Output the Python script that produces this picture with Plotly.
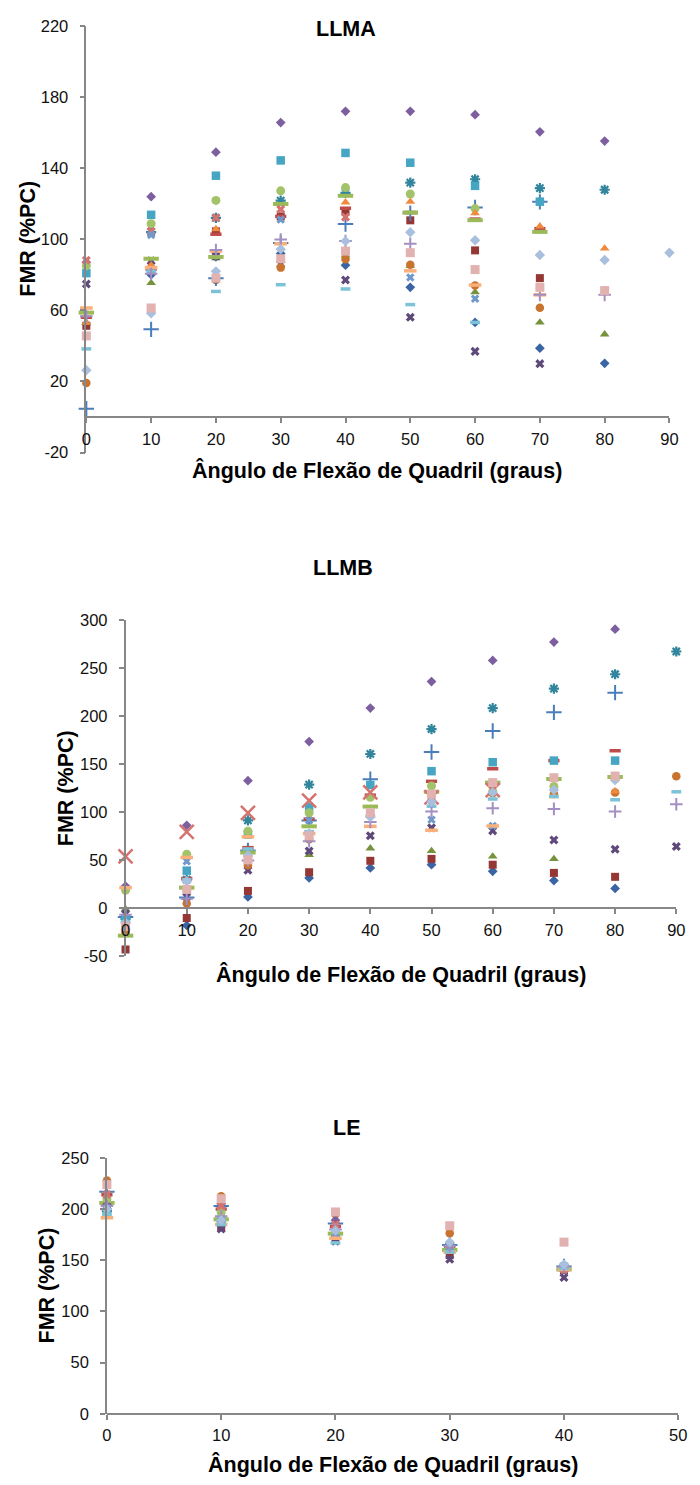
import plotly.graph_objects as go

W, H = 700, 1485

# ---------------------------------------------------------------------------
# Data: FMR (%PC) per subject series, by hip flexion angle (graus)
# None = no measurement at that angle
# ---------------------------------------------------------------------------
ANGLES_LLMA = [0, 10, 20, 30, 40, 50, 60, 70, 80, 90]
LLMA_01 = [52, 80, 90, 92, 85.4, 72.9, 53.2, 38.7, 30.2, None]
LLMA_02 = [51.3, 82.8, 104.4, 112.8, 115.6, 110.6, 93.7, 78.1, None, None]
LLMA_03 = [53, 75.4, 89.3, 88, 90.9, 85, 70.2, 53.2, 46.5, None]
LLMA_04 = [74.8, 87.8, 90.5, 86, 77, 56.1, 36.9, 30, None, None]
LLMA_05 = [None, 104, 112, 121.7, 126, 131.8, 133.7, 128.7, 127.8, None]
LLMA_06 = [19.1, 60, 77, 84, 88.7, 85.6, 73.9, 61.5, None, None]
LLMA_07 = [4.6, 49.3, 78, 97.8, 108.5, 114.6, 117.8, 121, None, None]
LLMA_08 = [56.1, 83, 102.8, 112.8, 117.4, 115, 111.3, 105.9, None, None]
LLMA_09 = [58.7, 89, 90, 119.8, 124.4, 115, 110.7, 104.1, None, None]
LLMA_10 = [87, 123.9, 148.9, 165.6, 171.9, 171.9, 170, 160.4, 155.2, None]
LLMA_11 = [80.9, 113.7, 135.7, 144.3, 148.5, 143, 130, 121.1, None, None]
LLMA_12 = [85, 108.7, 121.8, 127.2, 129, 125.4, 117.2, None, None, None]
LLMA_13 = [53.1, 85.4, 105.7, None, 120.7, 121.1, 114.6, 107.2, 94.8, None]
LLMA_14 = [88.1, 104.4, 112, 116.8, 112.4, None, None, None, None, None]
LLMA_15 = [None, 102.4, None, 111, None, 78.5, 66.5, None, None, None]
LLMA_16 = [61.3, 84, 93.3, 97.4, None, 82.2, 74.2, 68.7, None, None]
LLMA_17 = [38.3, 82, 70.6, 74.4, 72, 63.2, 53.2, None, None, None]
LLMA_18 = [56.7, 80.5, 93.9, 99.8, 99, 97.4, None, 68.7, 68.7, None]
LLMA_19 = [26.3, 58.3, 81.9, 94.4, 98.9, 103.9, 99.4, 91.1, 88.3, 92.4]
LLMA_20 = [45.6, 61.3, 78.1, 89, 93.3, 92.4, 82.9, 72.9, 71.1, None]

ANGLES_LLMB = [0, 10, 20, 30, 40, 50, 60, 70, 80, 90]
LLMB_01 = [-22, -17.8, 12, 31.8, 42.1, 45.5, 38.7, 29, 20.8, None]
LLMB_02 = [-42.8, -10, 18.2, 37.7, 49.6, 51.6, 45.5, 37, 32.9, None]
LLMB_03 = [-0.7, 21, 56, 55.7, 62.6, 59.9, 54.1, 51.6, None, None]
LLMB_04 = [-5.8, 12, 39.7, 59.9, 75.7, 83.9, 80.8, 71.2, 61.6, 64.4]
LLMB_05 = [-11, 30, 91.7, 129, 160.9, 186.9, 208.7, 229, 244, 267.7]
LLMB_06 = [-25, 5.1, 44.9, 72, 97, 112, 120, 119.1, 120.8, 137.6]
LLMB_07 = [-9, 11.3, 60.3, 91.7, 134.5, 162.9, 184.8, 204.3, 224.8, None]
LLMB_08 = [None, 31.1, 63.3, 93, 118, 132.4, 145.5, 154, 164.3, None]
LLMB_09 = [-28.4, 21.6, 58.2, 85.5, 106.1, 121.5, 131.1, 134.8, 136.9, None]
LLMB_10 = [23.3, 86.6, 133.1, 173.8, 208.7, 236.4, 258.4, 277.5, 290.9, None]
LLMB_11 = [-11, 39.3, 77, 105.4, 128.6, 143, 152.3, 154, 154, None]
LLMB_12 = [18.8, 56.5, 80.4, 99.6, 115.7, 127.6, 122, 127, 135, None]
LLMB_13 = [None, None, None, None, None, None, None, 117, 122, None]
LLMB_14 = [54.1, 79.8, 99.6, 112.2, 120.8, 115.7, 123.2, None, None, None]
LLMB_15 = [None, 49, None, 91.7, None, 92.4, 86, None, None, None]
LLMB_16 = [21.6, 53.1, 74.6, 78, 85.5, 81.4, 85.9, None, None, None]
LLMB_17 = [-14.4, 30, 62, 80, 96, 106.5, 114, 116.7, 113.2, 121.5]
LLMB_18 = [-6.5, 10, 50, 70, 90, 100.9, 104.4, 103.7, 100.9, 108.5]
LLMB_19 = [-15, 28.4, 55.1, 78, 95.2, 111.2, 120.8, 123.5, 133.8, None]
LLMB_20 = [-18.8, 19.8, 50.6, 75.7, 99.6, 119.1, 131.1, 136.2, 137.9, None]

ANGLES_LE = [0, 10, 20, 30, 40]
LE_01 = [200, 188, 180, 165, 143]
LE_02 = [205, 182, 170, 155, 140.3]
LE_03 = [207, 186, 175, 160, 142]
LE_04 = [203, 180.5, 168.6, 150.9, 133.2]
LE_05 = [198, 190, 176, 162, 144]
LE_06 = [228, 212.6, 195, 176.4, 141]
LE_07 = [217, 203, 186, 165, 144]
LE_08 = [214, 200, 183, 163, 141]
LE_09 = [206, 190, 176, 160, 141]
LE_10 = [204.6, 205.3, 189.2, 166, 143]
LE_11 = [196, 187.5, 174, 161.2, 142.9]
LE_12 = [210.1, 196.6, 177.3, 163, 143]
LE_13 = [194, 186, 173, 159, 141]
LE_14 = [214.3, 203, 184.7, 161, 141]
LE_15 = [201, 188, 176, 163, 144]
LE_16 = [191.5, 185, 171.5, 158, 141]
LE_17 = [195, 185, 167, 158, 142]
LE_18 = [203, 193, 180, 164, 144]
LE_19 = [199.8, 189.2, 178.9, 167.7, 145.8]
LE_20 = [223.9, 210.1, 197.2, 183.7, 167.7]

LLMA_SERIES = [LLMA_01, LLMA_02, LLMA_03, LLMA_04, LLMA_05, LLMA_06, LLMA_07,
               LLMA_08, LLMA_09, LLMA_10, LLMA_11, LLMA_12, LLMA_13, LLMA_14,
               LLMA_15, LLMA_16, LLMA_17, LLMA_18, LLMA_19, LLMA_20]
LLMB_SERIES = [LLMB_01, LLMB_02, LLMB_03, LLMB_04, LLMB_05, LLMB_06, LLMB_07,
               LLMB_08, LLMB_09, LLMB_10, LLMB_11, LLMB_12, LLMB_13, LLMB_14,
               LLMB_15, LLMB_16, LLMB_17, LLMB_18, LLMB_19, LLMB_20]
LE_SERIES = [LE_01, LE_02, LE_03, LE_04, LE_05, LE_06, LE_07, LE_08, LE_09,
             LE_10, LE_11, LE_12, LE_13, LE_14, LE_15, LE_16, LE_17, LE_18,
             LE_19, LE_20]

# ---------------------------------------------------------------------------
# Marker cycle (spreadsheet-style automatic markers)
# ---------------------------------------------------------------------------
MARKERS = [
    dict(symbol="diamond", color="#3B64A3", size=7.5),
    dict(symbol="square", color="#953735", size=8),
    dict(symbol="triangle-up", color="#76923C", size=8.5),
    dict(symbol="x", color="#5F497A", size=8),
    dict(symbol="asterisk-open", color="#31859C", size=8.5, lw=2.2),
    dict(symbol="circle", color="#C8732E", size=8.5),
    dict(symbol="cross-thin-open", color="#4A7EBB", size=11, lw=2),
    dict(symbol="line-ew-open", color="#BE4B48", size=8, lw=3.5),
    dict(symbol="line-ew-open", color="#9BBB59", size=11, lw=4),
    dict(symbol="diamond", color="#7D5FA0", size=7.5),
    dict(symbol="square", color="#45A5C2", size=8.5),
    dict(symbol="circle", color="#A3C36A", size=9),
    dict(symbol="triangle-up", color="#F08A3C", size=8.5),
    dict(symbol="x", color="#D47370", size=8),
    dict(symbol="x", color="#7098CB", size=7.5),
    dict(symbol="line-ew-open", color="#F9B07A", size=9, lw=3.5),
    dict(symbol="line-ew-open", color="#7CC3D8", size=7, lw=3.5),
    dict(symbol="cross-thin-open", color="#A48FC2", size=9, lw=2),
    dict(symbol="diamond", color="#A8BFDE", size=8),
    dict(symbol="square", color="#E2B2B1", size=9),
]
# LLMB draws series 14 with a large thin cross
LLMB_OVERRIDE = {13: dict(symbol="x-thin-open", color="#D47370", size=14, lw=2.5)}

FONT = "Liberation Sans, Arial, Helvetica, sans-serif"
AXIS_GREY = "#878787"
X_TITLE = "Ângulo de Flexão de Quadril (graus)"
Y_TITLE = "FMR (%PC)"

# panel boxes in pixels: left, right, top, bottom
PANELS = [
    dict(name="LLMA", x=ANGLES_LLMA, series=LLMA_SERIES, override={},
         box=(83, 678, 17, 449), xr=(0, 90), yr=(-20, 220), ydt=40,
         title_xy=(348, 20), xt_xy=(380, 467), yt_xy=(24, 233)),
    dict(name="LLMB", x=ANGLES_LLMB, series=LLMB_SERIES, override=LLMB_OVERRIDE,
         box=(123, 685, 619, 959), xr=(0, 90), yr=(-50, 300), ydt=50,
         title_xy=(345, 566), xt_xy=(404, 977), yt_xy=(63, 789)),
    dict(name="LE", x=ANGLES_LE, series=LE_SERIES, override={},
         box=(104, 687, 1163, 1422), xr=(0, 50), yr=(0, 250), ydt=50,
         title_xy=(348, 1133), xt_xy=(396, 1473), yt_xy=(43, 1292)),
]
TICK_SIZE = 16.5
TITLE_SIZE = 21.5


def tick_values(lo, hi, step):
    vals, v = [], lo
    while v <= hi + 1e-9:
        vals.append(v)
        v += step
    return vals


fig = go.Figure()
annotations = []
layout_axes = {}

for i, p in enumerate(PANELS, start=1):
    left, right, top, bottom = p["box"]
    dx = [left / W, right / W]
    dy = [1 - bottom / H, 1 - top / H]
    y0, y1 = p["yr"]
    x_pos = dy[0] + (0 - y0) / (y1 - y0) * (dy[1] - dy[0])
    xa = "x" if i == 1 else f"x{i}"
    ya = "y" if i == 1 else f"y{i}"

    for k, vals in enumerate(p["series"]):
        st = dict(MARKERS[k])
        st.update(p["override"].get(k, {}))
        is_open = st["symbol"].endswith("open")
        marker = dict(symbol=st["symbol"], size=st["size"], color=st["color"],
                      line=dict(color=st["color"], width=st.get("lw", 2) if is_open else 0))
        fig.add_trace(go.Scatter(
            x=p["x"], y=vals, mode="markers", marker=marker,
            xaxis=xa, yaxis=ya, cliponaxis=False, showlegend=False,
            hoverinfo="x+y"))

    common = dict(showgrid=False, zeroline=False, showline=True,
                  linecolor=AXIS_GREY, linewidth=1.5, ticks="outside",
                  ticklen=5, tickwidth=1.5, tickcolor=AXIS_GREY,
                  tickfont=dict(family=FONT, size=TICK_SIZE, color="#111111"))
    xt = tick_values(p["xr"][0], p["xr"][1], 10)
    yt = tick_values(y0, y1, p["ydt"])
    layout_axes[f"xaxis{i}" if i > 1 else "xaxis"] = dict(
        common, domain=dx, range=list(p["xr"]), tickmode="array",
        tickvals=xt, ticktext=[str(v) for v in xt],
        anchor="free", position=x_pos, ticklabelstandoff=2)
    layout_axes[f"yaxis{i}" if i > 1 else "yaxis"] = dict(
        common, domain=dy, range=[y0, y1], tickmode="array",
        tickvals=yt, ticktext=[str(v) for v in yt],
        anchor=xa, ticklabelstandoff=8)

    tfont = dict(family=FONT, size=TITLE_SIZE, color="#000000")
    tx, ty = p["title_xy"]
    annotations.append(dict(text=f"<b>{p['name']}</b>", x=tx / W, y=1 - ty / H,
                            xref="paper", yref="paper", showarrow=False,
                            xanchor="center", yanchor="middle", font=tfont))
    ax_, ay_ = p["xt_xy"]
    annotations.append(dict(text=f"<b>{X_TITLE}</b>", x=ax_ / W, y=1 - ay_ / H,
                            xref="paper", yref="paper", showarrow=False,
                            xanchor="center", yanchor="middle", font=tfont))
    bx, by = p["yt_xy"]
    annotations.append(dict(text=f"<b>{Y_TITLE}</b>", x=bx / W, y=1 - by / H,
                            xref="paper", yref="paper", showarrow=False,
                            textangle=-90, xanchor="center", yanchor="middle",
                            font=tfont))

fig.update_layout(
    width=W, height=H,
    margin=dict(l=0, r=0, t=0, b=0),
    paper_bgcolor="white", plot_bgcolor="white",
    showlegend=False,
    annotations=annotations,
    **layout_axes,
)

fig.write_html("out.html")
